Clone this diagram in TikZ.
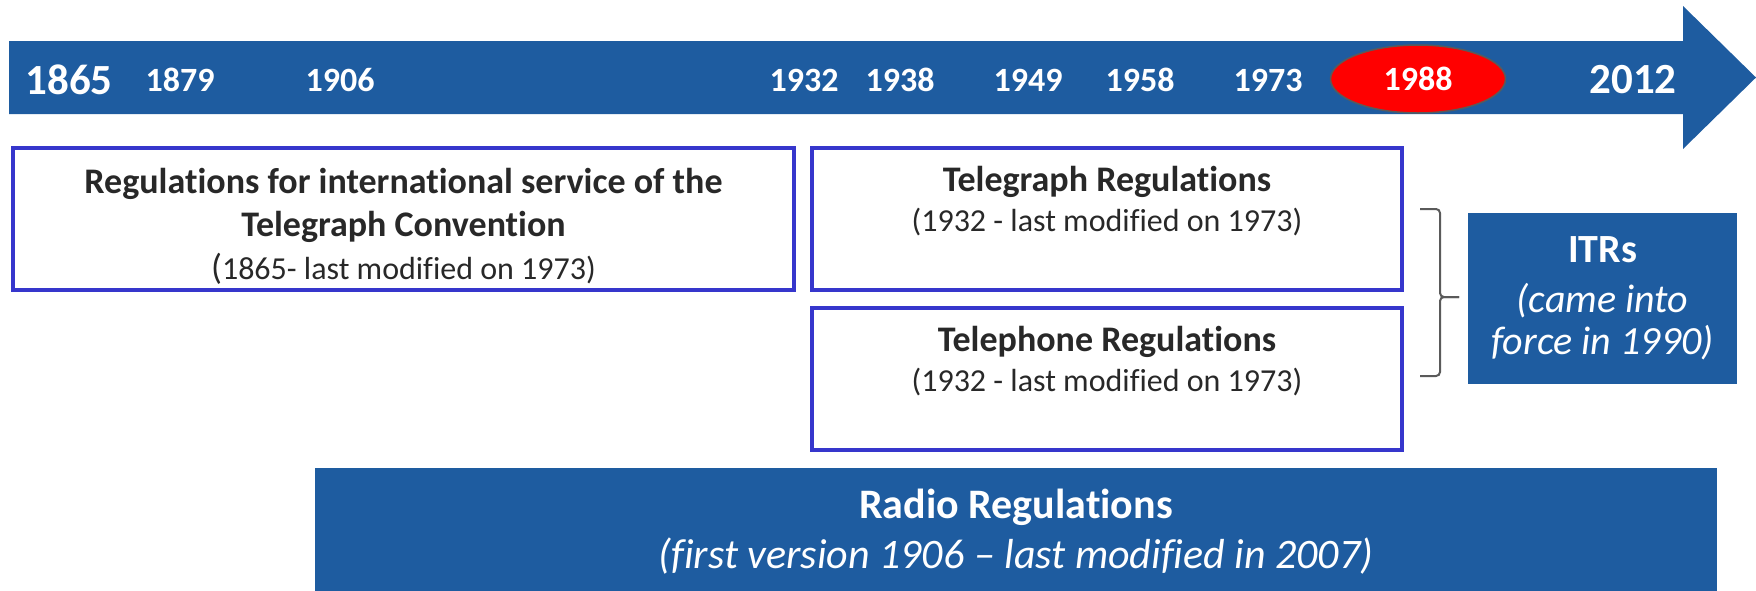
\documentclass[tikz,border=0pt]{standalone}
\usepackage{fontspec}
\setmainfont{Carlito}[Ligatures={TeX,NoCommon}]
\usetikzlibrary{positioning,shapes.geometric}
\definecolor{itublue}{RGB}{30,92,160}
\definecolor{frameblue}{RGB}{54,54,204}
\definecolor{txtgray}{RGB}{40,40,40}
\definecolor{bracegray}{RGB}{90,90,90}
\newcommand\regnote[1]{{\fontsize{32}{38}\selectfont\mdseries #1}}

\begin{document}
\begin{tikzpicture}[x=1pt,y=-1pt,
  year/.style={text=white,inner sep=0pt,font=\fontsize{34}{40}\selectfont\bfseries},
  bigyear/.style={year,font=\fontsize{43}{50}\selectfont\bfseries},
  regbox/.style={draw=frameblue,line width=4pt,inner sep=0pt,minimum height=142pt},
  regtext/.style={text=txtgray,align=center,inner sep=0pt,font=\fontsize{36}{43}\selectfont\bfseries},
  bluebox/.style={fill=itublue,text=white,align=center,inner sep=0pt}]
\useasboundingbox (0,0) rectangle (1756,590);

% timeline
\fill[itublue] (9,41) -- (1683,41) -- (1683,6) -- (1756,77.5) -- (1683,149) -- (1683,114) -- (9,114) -- cycle;

\node[bigyear] (y1865) at (69,80) {1865};
\node[year] (y1879) at (180,80) {1879};
\node[year] (y1906) at (340,80) {1906};
\node[year] (y1932) at (804,80) {1932};
\node[year] (y1938) at (900,80) {1938};
\node[year] (y1949) at (1028,80) {1949};
\node[year] (y1958) at (1140,80) {1958};
\node[year] (y1973) at (1268,80) {1973};
\node[ellipse,draw=bracegray,line width=1.5pt,fill=red,minimum width=175pt,minimum height=68pt,inner sep=0pt,text=white,font=\fontsize{34}{40}\selectfont\bfseries] (y1988) at (1418,79) {1988};
\node[bigyear] (y2012) at (1633,80) {2012};

% regulation boxes
\node[regbox,minimum width=781pt] (tc) at (403.5,219) {};
\node[regbox,minimum width=590pt] (tg) [right=14pt of tc] {};
\node[regbox,minimum width=590pt] (tp) [below=14pt of tg] {};

\node[regtext,anchor=north] (tctext) [below=22pt of tc.north] {Regulations for international service of the\\Telegraph Convention\\{\fontsize{36}{43}\selectfont\mdseries(}\regnote{1865- last modified on 1973)}};
\node[regtext,anchor=north] (tgtext) [below=20pt of tg.north] {Telegraph Regulations\\[-3pt]\regnote{(1932 - last modified on 1973)}};
\node[regtext,anchor=north] (tptext) [below=20pt of tp.north] {Telephone Regulations\\[-3pt]\regnote{(1932 - last modified on 1973)}};

\node[bluebox,minimum width=269pt,minimum height=171pt,font=\fontsize{40}{42}\selectfont] (itr) at (1602.5,298.5) {\textbf{ITRs}\\[8pt]\textit{(came into}\\\textit{force in 1990)}};

\coordinate (brtop) at (1420,209);
\coordinate (brtip) at (1459,297);
\coordinate (brbot) at (1420,376);
\draw[bracegray,line width=2pt,rounded corners=4pt] (brtop) -- (1440,209) -- (1440,297) -- (brtip);
\draw[bracegray,line width=2pt,rounded corners=4pt] (brtip) -- (1440,297) -- (1440,376) -- (brbot);

\node[bluebox,minimum width=1402pt,minimum height=128pt,font=\fontsize{42}{50}\selectfont] (rr) at (1016,532) {\textbf{Radio Regulations}\\\textit{(first version 1906 -- last modified in 2007)}};

\end{tikzpicture}
\end{document}
